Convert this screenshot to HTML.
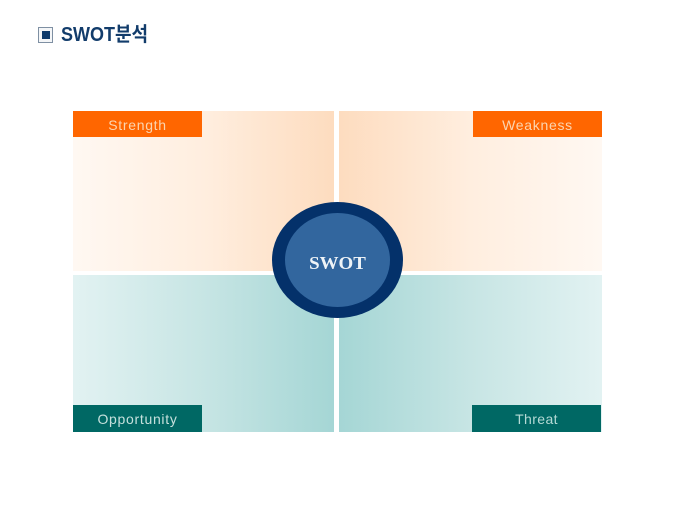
<!DOCTYPE html>
<html><head><meta charset="utf-8">
<style>
html,body{margin:0;padding:0;background:#fff}
body{width:680px;height:510px;position:relative;overflow:hidden;font-family:"Liberation Sans","Noto Sans CJK KR",sans-serif}
div{position:absolute;box-sizing:border-box}
.l{color:#fbd5b0;font-size:14px;line-height:1;letter-spacing:.7px;text-align:center;font-weight:normal}
</style></head><body>
<div style="left:38px;top:27px;width:15px;height:16px;border:1px solid #7f90a3;background:#f4f6f8"></div>
<div style="left:42px;top:31px;width:8px;height:8px;background:#0d3a6c"></div>
<div style="left:61px;top:22px;font-size:20px;line-height:26px;font-weight:bold;color:#123c6b;white-space:nowrap;transform-origin:0 50%;transform:scaleX(.9);font-family:'Liberation Sans','Noto Sans CJK KR',sans-serif">SWOT분석</div>

<div style="left:73px;top:111px;width:261px;height:160px;background:linear-gradient(90deg,#fff8f2 0%,#ffeedf 50%,#fddcbf 100%)"></div>
<div style="left:339px;top:111px;width:263px;height:160px;background:linear-gradient(90deg,#fddcbf 0%,#ffeedf 50%,#fff8f2 100%)"></div>
<div style="left:73px;top:275px;width:261px;height:157px;background:linear-gradient(90deg,#e2f2f2 0%,#c7e5e4 50%,#a5d6d5 100%)"></div>
<div style="left:339px;top:275px;width:263px;height:157px;background:linear-gradient(90deg,#a5d6d5 0%,#c7e5e4 50%,#e2f2f2 100%)"></div>

<div class="l" style="left:73px;top:111px;width:129px;height:26px;background:#ff6600;line-height:28px">Strength</div>
<div class="l" style="left:473px;top:111px;width:129px;height:26px;background:#ff6600;line-height:28px">Weakness</div>
<div class="l" style="left:73px;top:405px;width:129px;height:27px;background:#006864;line-height:28px;color:#c5e0dc">Opportunity</div>
<div class="l" style="left:472px;top:405px;width:129px;height:27px;background:#006864;line-height:28px;color:#b5dad5;letter-spacing:.4px">Threat</div>

<div style="left:272px;top:202px;width:131px;height:116px;border-radius:50%;background:#04316a"></div>
<div style="left:285px;top:213px;width:105px;height:94px;border-radius:50%;background:#32669e"></div>
<div style="left:285px;top:252px;width:105px;text-align:center;font-family:'Liberation Serif',serif;font-weight:bold;font-size:18px;line-height:22px;color:#eef3f7;transform:scaleX(1.05)">SWOT</div>
</body></html>
